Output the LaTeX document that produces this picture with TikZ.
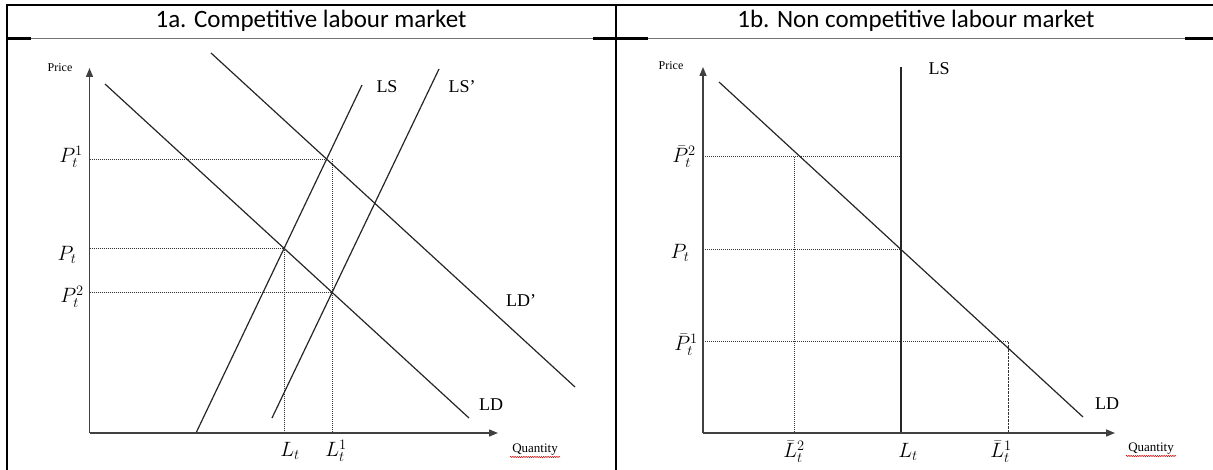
\documentclass[tikz,border=0pt]{standalone}
\usepackage{fontspec}
\setmainfont{Liberation Serif}
\newfontfamily\titlefont{Carlito}
\usetikzlibrary{arrows.meta,intersections,decorations.pathmorphing}
\begin{document}
\begin{tikzpicture}[x=1pt,y=-1pt,
  border/.style={line width=2.4pt,black},
  hdrgray/.style={line width=1pt,black!55},
  axisline/.style={line width=1.4pt,black!75,-{Triangle[length=9pt,width=7pt]}},
  curve/.style={line width=1.2pt,black!85},
  guide/.style={line width=1pt,black!80,dash pattern=on 1pt off 1pt},
  dashguide/.style={line width=1pt,black!80,dash pattern=on 2.5pt off 1pt},
  title/.style={font=\titlefont\fontsize{25}{30}\selectfont},
  curvelab/.style={font=\fontsize{18}{21}\selectfont},
  axlab/.style={font=\fontsize{12}{14}\selectfont},
  qlab/.style={font=\fontsize{13}{15}\selectfont},
  mlab/.style={font=\fontsize{20}{24}\selectfont},
  spell/.style={red!80!black,line width=0.5pt,decorate,decoration={snake,amplitude=0.6pt,segment length=2.2pt}},
]
\useasboundingbox (0,0) rectangle (1213,470);
\fill[white] (0,0) rectangle (1213,470);

% ---------- table ----------
\draw[border] (7,470) -- (7,5) -- (1213,5);
\draw[border] (616,5) -- (616,470);
\draw[border] (7,38.5) -- (31,38.5);
\draw[hdrgray] (31,38.5) -- (593,38.5);
\draw[border] (593,38.5) -- (648,38.5);
\draw[hdrgray] (648,38.5) -- (1185,38.5);
\draw[border] (1185,38.5) -- (1213,38.5);

\node[title] (t1) at (311,21) {1a. Competitive labour market};
\node[title] (t2) at (916,21) {1b. Non competitive labour market};

% ---------- chart 1a ----------
\coordinate (O1) at (89.5,433);
\coordinate (Y1) at (89.5,68);
\coordinate (X1) at (498,433);

\path[name path=LD1] (105,84) -- (469,418);
\path[name path=LDp1] (211,53) -- (575,387);
\path[name path=LS1] (362,85) -- (196,433);
\path[name path=LSp1] (439,69) -- (272,418);
\path[name intersections={of=LS1 and LDp1,by=A}];
\path[name intersections={of=LS1 and LD1,by=B}];
\path[name intersections={of=LSp1 and LD1,by=C}];

\draw[guide] (O1 |- A) -- (A);
\draw[guide] (O1 |- B) -- (B) -- (B |- O1);
\draw[guide] (O1 |- C) -- (C);
\draw[guide] (C |- A) -- (C |- O1);

\draw[curve] (105,84) -- (469,418);
\draw[curve] (211,53) -- (575,387);
\draw[curve] (362,85) -- (196,433);
\draw[curve] (439,69) -- (272,418);

\draw[axisline] (O1) -- (Y1);
\draw[axisline] (O1) -- (X1);

\node[axlab] (price1) at (60,68) {Price};
\node[qlab] (qty1) at (535,450) {Quantity};
\draw[spell] (510,457) -- (560,457);
\node[curvelab] (ls1) at (387,87) {LS};
\node[curvelab] (lsp1) at (462,87) {LS’};
\node[curvelab] (ldp1) at (521,301) {LD’};
\node[curvelab] (ld1) at (491,405) {LD};
\node[mlab] (p1) at (71,157) {$P_t^1$};
\node[mlab] (p0) at (67,255) {$P_t$};
\node[mlab] (p2) at (72,297) {$P_t^2$};
\node[mlab] (l0) at (290,451) {$L_t$};
\node[mlab] (l1) at (336,451) {$L_t^1$};

% ---------- chart 1b ----------
\coordinate (O2) at (703,433);
\coordinate (Y2) at (703,67);
\coordinate (X2) at (1115,433);

\path[name path=LS2] (901,67) -- (901,433);
\path[name path=LD2] (719,82) -- (1083,417);
\path[name intersections={of=LS2 and LD2,by=E}];

\draw[guide] (703,157) -- (901,157);
\draw[guide] (794,157) -- (794,433);
\draw[guide] (O2 |- E) -- (E);
\draw[guide] (703,342) -- (1008,342);
\draw[dashguide] (1008,342) -- (1008,433);

\draw[line width=1.8pt,black!85] (901,67) -- (901,433);
\draw[curve] (719,82) -- (1083,417);

\draw[axisline] (O2) -- (Y2);
\draw[axisline] (O2) -- (X2);

\node[axlab] (price2) at (671,66) {Price};
\node[qlab] (qty2) at (1151,449) {Quantity};
\draw[spell] (1126,456) -- (1176,456);
\node[curvelab] (ls2) at (939,69) {LS};
\node[curvelab] (ld2) at (1107,404) {LD};
\node[mlab] (pb2) at (684,157) {$\bar{P}_t^2$};
\node[mlab] (pt2) at (680,253) {$P_t$};
\node[mlab] (pb1) at (686,345) {$\bar{P}_t^1$};
\node[mlab] (lb2) at (794,452) {$\bar{L}_t^2$};
\node[mlab] (lt2) at (908,452) {$L_t$};
\node[mlab] (lb1) at (1001,452) {$\bar{L}_t^1$};
\end{tikzpicture}
\end{document}
